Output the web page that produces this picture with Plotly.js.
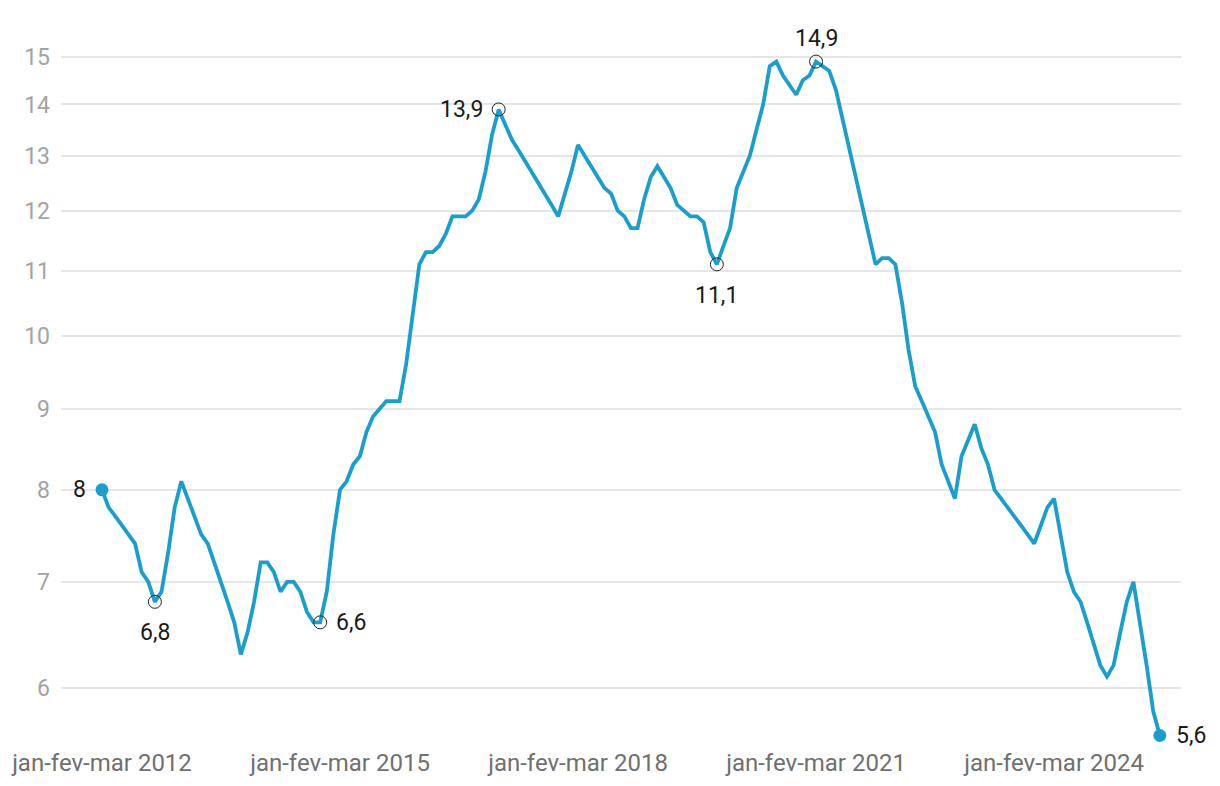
<!DOCTYPE html>
<html>
<head>
<meta charset="utf-8">
<script src="https://cdn.plot.ly/plotly-3.0.1.min.js"></script>
<style>
  html, body { margin: 0; padding: 0; background: #ffffff; }
  #chart { width: 1220px; height: 786px; }
</style>
</head>
<body>
<div id="chart"></div>
<script>
// Taxa de desocupação (%), trimestres móveis, de jan-fev-mar 2012 a mai-jun-jul 2025
const monthNames = ['jan','fev','mar','abr','mai','jun','jul','ago','set','out','nov','dez'];
const startYear = 2012;

const rate = [
  8.0, 7.8, 7.7, 7.6, 7.5, 7.4, 7.1, 7.0, 6.8, 6.9, 7.3, 7.8,
  8.1, 7.9, 7.7, 7.5, 7.4, 7.2, 7.0, 6.8, 6.6, 6.3, 6.5, 6.8,
  7.2, 7.2, 7.1, 6.9, 7.0, 7.0, 6.9, 6.7, 6.6, 6.6, 6.9, 7.5,
  8.0, 8.1, 8.3, 8.4, 8.7, 8.9, 9.0, 9.1, 9.1, 9.1, 9.6, 10.3,
  11.1, 11.3, 11.3, 11.4, 11.6, 11.9, 11.9, 11.9, 12.0, 12.2, 12.7, 13.4,
  13.9, 13.6, 13.3, 13.1, 12.9, 12.7, 12.5, 12.3, 12.1, 11.9, 12.3, 12.7,
  13.2, 13.0, 12.8, 12.6, 12.4, 12.3, 12.0, 11.9, 11.7, 11.7, 12.2, 12.6,
  12.8, 12.6, 12.4, 12.1, 12.0, 11.9, 11.9, 11.8, 11.3, 11.1, 11.4, 11.7,
  12.4, 12.7, 13.0, 13.5, 14.0, 14.8, 14.9, 14.6, 14.4, 14.2, 14.5, 14.6,
  14.9, 14.8, 14.7, 14.3, 13.7, 13.2, 12.6, 12.1, 11.6, 11.1, 11.2, 11.2,
  11.1, 10.5, 9.8, 9.3, 9.1, 8.9, 8.7, 8.3, 8.1, 7.9, 8.4, 8.6,
  8.8, 8.5, 8.3, 8.0, 7.9, 7.8, 7.7, 7.6, 7.5, 7.4, 7.6, 7.8,
  7.9, 7.5, 7.1, 6.9, 6.8, 6.6, 6.4, 6.2, 6.1, 6.2, 6.5, 6.8,
  7.0, 6.6, 6.2, 5.8, 5.6
];

// labels for rolling quarters
const periods = rate.map((_, i) => {
  const names = [0,1,2].map(k => monthNames[(i + k) % 12]).join('-');
  const yr = startYear + Math.floor((i + 2) / 12);
  return names + ' ' + yr;
});

const tickLabels = ['jan-fev-mar 2012','jan-fev-mar 2015','jan-fev-mar 2018','jan-fev-mar 2021','jan-fev-mar 2024'];
const yTicks = [6, 7, 8, 9, 10, 11, 12, 13, 14, 15];

// highlighted points: index, placement of label
const highlightIdx = [8, 33, 60, 93, 108];
const highlightPos = ['below', 'right', 'left', 'below', 'above'];
const endIdx = [0, rate.length - 1];
const endPos = ['left', 'right'];

const blue = '#199fcd';

const traces = [
  {
    x: periods, y: rate, type: 'scatter', mode: 'lines',
    line: {color: blue, width: 3.8},
    hoverinfo: 'x+y'
  },
  {
    x: highlightIdx.map(i => periods[i]), y: highlightIdx.map(i => rate[i]),
    type: 'scatter', mode: 'markers',
    marker: {symbol: 'circle-open', size: 13, color: '#222', line: {width: 1, color: '#222'}},
    hoverinfo: 'skip'
  },
  {
    x: endIdx.map(i => periods[i]), y: endIdx.map(i => rate[i]),
    type: 'scatter', mode: 'markers',
    marker: {symbol: 'circle', size: 13, color: blue},
    hoverinfo: 'skip'
  }
];

function fmt(v) { return String(v).replace('.', ','); }
function ann(i, pos) {
  const a = {
    x: periods[i], y: Math.log10(rate[i]), xref: 'x', yref: 'y',
    text: fmt(rate[i]), showarrow: false,
    font: {family: 'Roboto, sans-serif', size: 23, color: '#1a1a1a'}
  };
  if (pos === 'below') { a.xanchor = 'center'; a.yanchor = 'middle'; a.yshift = -31; }
  if (pos === 'above') { a.xanchor = 'center'; a.yanchor = 'middle'; a.yshift = 23; }
  if (pos === 'left')  { a.xanchor = 'right'; a.yanchor = 'middle'; a.xshift = -14; }
  if (pos === 'right') { a.xanchor = 'left'; a.yanchor = 'middle'; a.xshift = 14; }
  return a;
}
const annotations = highlightIdx.map((i, k) => ann(i, highlightPos[k]))
  .concat(endIdx.map((i, k) => ann(i, endPos[k])));

const layout = {
  width: 1220, height: 786,
  margin: {l: 61, r: 39, t: 20, b: 41},
  paper_bgcolor: '#ffffff', plot_bgcolor: '#ffffff',
  showlegend: false,
  font: {family: 'Roboto, sans-serif'},
  xaxis: {
    type: 'category',
    range: [-6.2, 163.2],
    tickmode: 'array', tickvals: tickLabels, ticktext: tickLabels,
    showgrid: false, zeroline: false, showline: false, ticks: '',
    tickfont: {family: 'Roboto, sans-serif', size: 24, color: '#707070'},
    ticklabelstandoff: 1
  },
  yaxis: {
    type: 'log',
    range: [0.7422, 1.1994],
    tickmode: 'array', tickvals: yTicks, ticktext: yTicks.map(String),
    showgrid: true, gridcolor: '#e6e6e6', gridwidth: 2,
    zeroline: false, showline: false, ticks: '',
    tickfont: {family: 'Roboto, sans-serif', size: 23, color: '#a3a3a3'},
    ticklabelstandoff: 10
  },
  annotations: annotations
};

Plotly.newPlot('chart', traces, layout, {displayModeBar: false, staticPlot: true});
</script>
</body>
</html>
